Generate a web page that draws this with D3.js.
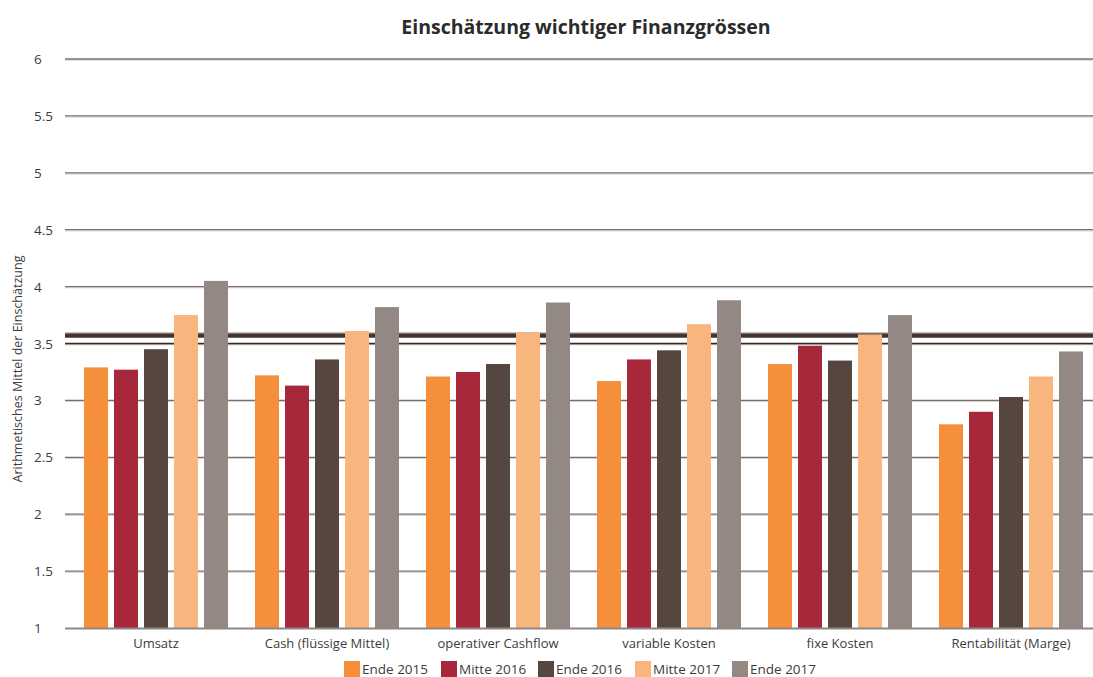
<!DOCTYPE html>
<html>
<head>
<meta charset="utf-8">
<script src="https://cdn.jsdelivr.net/npm/d3@7"></script>
<style>
  body { margin: 0; background: #fff; }
  svg text { font-family: "Open Sans", sans-serif; fill: #3c3c3c; }
</style>
</head>
<body>
<div id="chart"></div>
<script>
var categories = ["Umsatz", "Cash (flüssige Mittel)", "operativer Cashflow", "variable Kosten", "fixe Kosten", "Rentabilität (Marge)"];
var seriesNames = ["Ende 2015", "Mitte 2016", "Ende 2016", "Mitte 2017", "Ende 2017"];
var ende2015 = [3.29, 3.22, 3.21, 3.17, 3.32, 2.79];
var mitte2016 = [3.27, 3.13, 3.25, 3.36, 3.48, 2.90];
var ende2016 = [3.45, 3.36, 3.32, 3.44, 3.35, 3.03];
var mitte2017 = [3.75, 3.61, 3.60, 3.67, 3.58, 3.21];
var ende2017 = [4.05, 3.82, 3.86, 3.88, 3.75, 3.43];
var yTicks = [1, 1.5, 2, 2.5, 3, 3.5, 4, 4.5, 5, 5.5, 6];
var meanLine = 3.57;

var seriesValues = [ende2015, mitte2016, ende2016, mitte2017, ende2017];
var colors = ["#f58f3c", "#a8283b", "#55473f", "#f8b57d", "#938883"];

var width = 1093, height = 677;

var svg = d3.select("#chart").append("svg")
  .attr("width", width)
  .attr("height", height);

var y = d3.scaleLinear().domain([1, 6]).range([628, 59]);

var x0 = d3.scaleBand().domain(categories).range([70.5, 1096.5]).paddingInner(0).paddingOuter(0);
var x1 = d3.scaleBand().domain(seriesNames).range([0, x0.bandwidth()]).paddingInner(0.2).paddingOuter(0.45);

// title
svg.append("text")
  .attr("x", 586)
  .attr("y", 34)
  .attr("text-anchor", "middle")
  .style("font-size", "19.5px")
  .style("font-weight", "bold")
  .style("fill", "#2b2b2b")
  .text("Einschätzung wichtiger Finanzgrössen");

// gridlines
var grid = svg.append("g").attr("class", "grid");
yTicks.filter(function (d) { return d > 1; }).forEach(function (t) {
  var dark = (t === 3.5);
  grid.append("line")
    .attr("x1", 65).attr("x2", width)
    .attr("y1", y(t) + 1.2).attr("y2", y(t) + 1.2)
    .attr("stroke", dark ? "#b9aeab" : "#d4cecc")
    .attr("stroke-width", 1);
  grid.append("line")
    .attr("x1", 65).attr("x2", width)
    .attr("y1", y(t)).attr("y2", y(t))
    .attr("stroke", dark ? "#3a2a26" : "#7b6f6c")
    .attr("stroke-width", 1.3);
});

// mean line
grid.append("line")
  .attr("x1", 65).attr("x2", width)
  .attr("y1", y(meanLine)).attr("y2", y(meanLine))
  .attr("stroke", "#45332f")
  .attr("stroke-width", 4.5);
grid.append("line")
  .attr("x1", 65).attr("x2", width)
  .attr("y1", y(meanLine) - 2.5).attr("y2", y(meanLine) - 2.5)
  .attr("stroke", "#8a7c78")
  .attr("stroke-width", 1);

// y tick labels
svg.append("g").selectAll("text")
  .data(yTicks)
  .enter().append("text")
  .attr("x", 34)
  .attr("y", function (d) { return y(d) + 5; })
  .style("font-size", "13.5px")
  .text(function (d) { return d; });

// y axis title
svg.append("text")
  .attr("transform", "translate(22," + 369 + ") rotate(-90)")
  .attr("text-anchor", "middle")
  .style("font-size", "12.5px")
  .text("Arithmetisches Mittel der Einschätzung");

// bars
var groups = svg.append("g").selectAll("g")
  .data(categories)
  .enter().append("g")
  .attr("transform", function (d) { return "translate(" + x0(d) + ",0)"; });

groups.selectAll("rect")
  .data(function (d, i) {
    return seriesNames.map(function (s, j) { return { key: s, value: seriesValues[j][i], idx: j }; });
  })
  .enter().append("rect")
  .attr("x", function (d) { return x1(d.key); })
  .attr("width", x1.bandwidth())
  .attr("y", function (d) { return y(d.value); })
  .attr("height", function (d) { return y(1) - y(d.value); })
  .attr("fill", function (d) { return colors[d.idx]; });

// baseline
svg.append("line")
  .attr("x1", 65).attr("x2", width)
  .attr("y1", y(1) + 0.5).attr("y2", y(1) + 0.5)
  .attr("stroke", "#8f8785")
  .attr("stroke-width", 2);

// category labels
svg.append("g").selectAll("text")
  .data(categories)
  .enter().append("text")
  .attr("x", function (d) { return x0(d) + x0.bandwidth() / 2; })
  .attr("y", 648)
  .attr("text-anchor", "middle")
  .style("font-size", "13px")
  .text(function (d) { return d; });

// legend
var legend = svg.append("g").selectAll("g")
  .data(seriesNames)
  .enter().append("g")
  .attr("transform", function (d, i) { return "translate(" + (344 + i * 97) + ",661)"; });

legend.append("rect")
  .attr("width", 16)
  .attr("height", 16)
  .attr("fill", function (d, i) { return colors[i]; });

legend.append("text")
  .attr("x", 18)
  .attr("y", 13)
  .style("font-size", "13.5px")
  .text(function (d) { return d; });
</script>
</body>
</html>
